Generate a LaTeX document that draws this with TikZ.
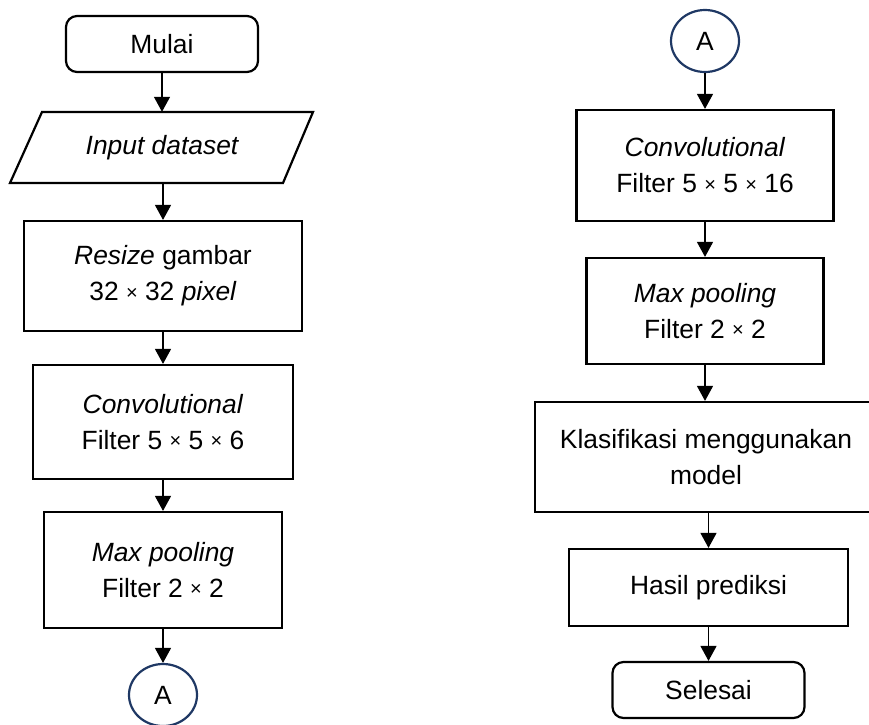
\documentclass[tikz,border=0pt]{standalone}
\usepackage{fontspec}
\setmainfont{Liberation Sans}
\usetikzlibrary{arrows.meta,shapes.geometric,calc}
\definecolor{navy}{RGB}{31,56,100}
\newcommand\tms{\raisebox{1.5pt}{\fontsize{20}{35}\selectfont ×}}
\tikzset{
  box/.style={draw=black, line width=2.2pt, rectangle, inner sep=0pt, align=center},
  term/.style={box, rounded corners=11pt},
  conn/.style={draw=navy, line width=2.2pt, ellipse, inner sep=0pt, minimum width=68pt, minimum height=62pt},
  flow/.style={line width=1.3pt, -{Triangle[length=15pt,width=16pt]}},
}
\begin{document}
\begin{tikzpicture}[x=1pt,y=-1pt, font=\fontsize{26.4}{36}\selectfont]
\useasboundingbox (0,0) rectangle (869,724);
% left column
\node[term, minimum width=192pt, minimum height=56pt] (mulai) at (162,44) {Mulai};
\node[inner sep=0pt, minimum width=240pt, minimum height=71pt] (input) at (162,147.5) {\itshape Input dataset};
\draw[line width=2.2pt, line join=miter] (42,112) -- (313,112) -- (283,183) -- (10,183) -- cycle;
\node[box, minimum width=278pt, minimum height=110pt] (resize) at (163,276) {\textit{Resize} gambar\\32 \tms{} 32 \textit{pixel}};
\node[box, minimum width=260pt, minimum height=114pt] (conv1) at (163,422) {\textit{Convolutional}\\Filter 5 \tms{} 5 \tms{} 6};
\node[box, minimum width=238pt, minimum height=116pt] (pool1) at (163,570) {\textit{Max pooling}\\Filter 2 \tms{} 2};
\node[conn] (a1) at (163,695) {A};
% right column
\node[conn] (a2) at (705,41) {A};
\node[box, minimum width=257pt, minimum height=111pt] (conv2) at (705,165.5) {\textit{Convolutional}\\Filter 5 \tms{} 5 \tms{} 16};
\node[box, minimum width=237pt, minimum height=106pt] (pool2) at (705,311) {\textit{Max pooling}\\Filter 2 \tms{} 2};
\node[box, minimum width=342pt, minimum height=110pt] (klas) at (706,457) {Klasifikasi menggunakan\\model};
\node[box, minimum width=279pt, minimum height=77pt] (hasil) at (708.5,587.5) {Hasil prediksi};
\node[term, minimum width=192pt, minimum height=56pt] (selesai) at (708.5,690) {Selesai};
% connectors
\draw[flow] (mulai.south -| input.north) -- (input.north);
\draw[flow] (input.south -| resize.north) -- (resize.north);
\draw[flow] (resize.south) -- (conv1.north);
\draw[flow] (conv1.south) -- (pool1.north);
\draw[flow] (pool1.south) -- (a1.north);
\draw[flow] (a2.south) -- (conv2.north);
\draw[flow] (conv2.south) -- (pool2.north);
\draw[flow] (pool2.south) -- (pool2.south |- klas.north);
\draw[flow] (klas.south -| hasil.north) -- (hasil.north);
\draw[flow] (hasil.south) -- (selesai.north);
\end{tikzpicture}
\end{document}
